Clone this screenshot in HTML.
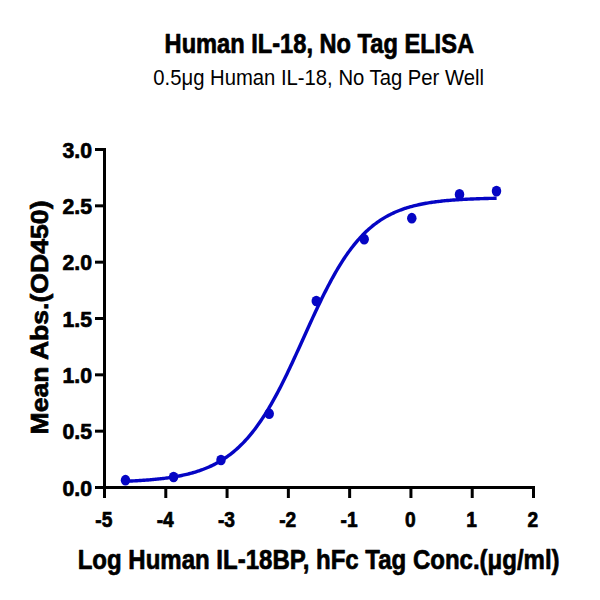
<!DOCTYPE html>
<html><head><meta charset="utf-8"><style>html,body{margin:0;padding:0;background:#fff;width:600px;height:600px;overflow:hidden}svg{display:block}</style></head>
<body><svg width="600" height="600" viewBox="0 0 600 600">
<rect width="600" height="600" fill="#fff"/>
<g stroke="#000" stroke-width="3" fill="none" stroke-linecap="butt">
<path d="M104.5,148 V489 M103,487.5 H535"/>
<path d="M95,487.50 H106"/>
<path d="M95,431.17 H106"/>
<path d="M95,374.83 H106"/>
<path d="M95,318.50 H106"/>
<path d="M95,262.17 H106"/>
<path d="M95,205.83 H106"/>
<path d="M95,149.50 H106"/>
<path d="M104.50,486 V498"/>
<path d="M165.79,486 V498"/>
<path d="M227.07,486 V498"/>
<path d="M288.36,486 V498"/>
<path d="M349.64,486 V498"/>
<path d="M410.93,486 V498"/>
<path d="M472.21,486 V498"/>
<path d="M533.50,486 V498"/>
</g>
<path d="M125.89,481.25 L127.13,481.20 L128.37,481.14 L129.61,481.09 L130.85,481.03 L132.09,480.97 L133.33,480.90 L134.57,480.84 L135.81,480.77 L137.05,480.70 L138.29,480.63 L139.53,480.55 L140.77,480.48 L142.01,480.40 L143.25,480.31 L144.49,480.23 L145.73,480.14 L146.97,480.04 L148.21,479.95 L149.45,479.85 L150.69,479.74 L151.93,479.63 L153.17,479.52 L154.41,479.41 L155.65,479.29 L156.89,479.16 L158.12,479.03 L159.36,478.90 L160.60,478.76 L161.84,478.62 L163.08,478.47 L164.32,478.32 L165.56,478.16 L166.80,477.99 L168.04,477.82 L169.28,477.64 L170.52,477.46 L171.76,477.27 L173.00,477.07 L174.24,476.86 L175.48,476.65 L176.72,476.43 L177.96,476.20 L179.20,475.97 L180.44,475.72 L181.68,475.47 L182.92,475.21 L184.16,474.94 L185.40,474.66 L186.64,474.36 L187.88,474.06 L189.12,473.75 L190.36,473.43 L191.60,473.09 L192.84,472.75 L194.08,472.39 L195.32,472.02 L196.56,471.63 L197.80,471.24 L199.04,470.82 L200.28,470.40 L201.52,469.96 L202.76,469.50 L204.00,469.03 L205.24,468.54 L206.48,468.04 L207.72,467.52 L208.96,466.98 L210.20,466.42 L211.44,465.85 L212.68,465.25 L213.92,464.64 L215.16,464.00 L216.40,463.35 L217.64,462.67 L218.88,461.97 L220.12,461.24 L221.36,460.50 L222.60,459.73 L223.84,458.93 L225.08,458.11 L226.32,457.27 L227.56,456.39 L228.80,455.49 L230.04,454.56 L231.28,453.61 L232.52,452.62 L233.76,451.60 L235.00,450.56 L236.24,449.48 L237.48,448.37 L238.72,447.23 L239.96,446.05 L241.20,444.84 L242.44,443.60 L243.68,442.32 L244.91,441.01 L246.15,439.66 L247.39,438.27 L248.63,436.85 L249.87,435.39 L251.11,433.89 L252.35,432.36 L253.59,430.78 L254.83,429.17 L256.07,427.51 L257.31,425.82 L258.55,424.08 L259.79,422.31 L261.03,420.50 L262.27,418.64 L263.51,416.75 L264.75,414.82 L265.99,412.84 L267.23,410.83 L268.47,408.78 L269.71,406.69 L270.95,404.55 L272.19,402.39 L273.43,400.18 L274.67,397.94 L275.91,395.66 L277.15,393.34 L278.39,390.99 L279.63,388.61 L280.87,386.19 L282.11,383.74 L283.35,381.26 L284.59,378.76 L285.83,376.22 L287.07,373.66 L288.31,371.07 L289.55,368.47 L290.79,365.83 L292.03,363.18 L293.27,360.51 L294.51,357.83 L295.75,355.13 L296.99,352.41 L298.23,349.69 L299.47,346.96 L300.71,344.22 L301.95,341.48 L303.19,338.73 L304.43,335.98 L305.67,333.24 L306.91,330.50 L308.15,327.76 L309.39,325.03 L310.63,322.31 L311.87,319.60 L313.11,316.91 L314.35,314.23 L315.59,311.57 L316.83,308.93 L318.07,306.31 L319.31,303.71 L320.55,301.14 L321.79,298.59 L323.03,296.07 L324.27,293.58 L325.51,291.12 L326.75,288.69 L327.99,286.29 L329.23,283.93 L330.47,281.60 L331.70,279.31 L332.94,277.06 L334.18,274.84 L335.42,272.66 L336.66,270.52 L337.90,268.42 L339.14,266.37 L340.38,264.35 L341.62,262.37 L342.86,260.43 L344.10,258.54 L345.34,256.68 L346.58,254.87 L347.82,253.10 L349.06,251.37 L350.30,249.68 L351.54,248.04 L352.78,246.43 L354.02,244.86 L355.26,243.34 L356.50,241.85 L357.74,240.41 L358.98,239.00 L360.22,237.63 L361.46,236.30 L362.70,235.00 L363.94,233.75 L365.18,232.52 L366.42,231.34 L367.66,230.19 L368.90,229.07 L370.14,227.99 L371.38,226.94 L372.62,225.92 L373.86,224.93 L375.10,223.98 L376.34,223.05 L377.58,222.16 L378.82,221.29 L380.06,220.45 L381.30,219.63 L382.54,218.85 L383.78,218.09 L385.02,217.35 L386.26,216.64 L387.50,215.96 L388.74,215.29 L389.98,214.65 L391.22,214.03 L392.46,213.43 L393.70,212.85 L394.94,212.30 L396.18,211.76 L397.42,211.24 L398.66,210.74 L399.90,210.25 L401.14,209.79 L402.38,209.34 L403.62,208.90 L404.86,208.48 L406.10,208.08 L407.34,207.69 L408.58,207.31 L409.82,206.95 L411.06,206.60 L412.30,206.27 L413.54,205.94 L414.78,205.63 L416.02,205.33 L417.26,205.04 L418.50,204.76 L419.73,204.49 L420.97,204.23 L422.21,203.99 L423.45,203.75 L424.69,203.51 L425.93,203.29 L427.17,203.08 L428.41,202.87 L429.65,202.67 L430.89,202.48 L432.13,202.30 L433.37,202.12 L434.61,201.95 L435.85,201.78 L437.09,201.63 L438.33,201.47 L439.57,201.33 L440.81,201.19 L442.05,201.05 L443.29,200.92 L444.53,200.80 L445.77,200.68 L447.01,200.56 L448.25,200.45 L449.49,200.34 L450.73,200.24 L451.97,200.14 L453.21,200.04 L454.45,199.95 L455.69,199.86 L456.93,199.78 L458.17,199.69 L459.41,199.62 L460.65,199.54 L461.89,199.47 L463.13,199.40 L464.37,199.33 L465.61,199.27 L466.85,199.20 L468.09,199.14 L469.33,199.09 L470.57,199.03 L471.81,198.98 L473.05,198.93 L474.29,198.88 L475.53,198.83 L476.77,198.78 L478.01,198.74 L479.25,198.70 L480.49,198.66 L481.73,198.62 L482.97,198.58 L484.21,198.54 L485.45,198.51 L486.69,198.48 L487.93,198.44 L489.17,198.41 L490.41,198.38 L491.65,198.36 L492.89,198.33 L494.13,198.30 L495.37,198.28 L496.61,198.25" stroke="#0505c4" stroke-width="3.4" fill="none"/>
<ellipse cx="125.5" cy="480.2" rx="4.75" ry="5.35" fill="#0505c4"/>
<ellipse cx="173.6" cy="477.0" rx="4.75" ry="5.35" fill="#0505c4"/>
<ellipse cx="221.0" cy="460.0" rx="4.75" ry="5.35" fill="#0505c4"/>
<ellipse cx="269.2" cy="413.7" rx="4.75" ry="5.35" fill="#0505c4"/>
<ellipse cx="316.3" cy="301.0" rx="4.75" ry="5.35" fill="#0505c4"/>
<ellipse cx="364.2" cy="239.2" rx="4.75" ry="5.35" fill="#0505c4"/>
<ellipse cx="411.8" cy="218.2" rx="4.75" ry="5.35" fill="#0505c4"/>
<ellipse cx="459.5" cy="194.4" rx="4.75" ry="5.35" fill="#0505c4"/>
<ellipse cx="496.5" cy="191.1" rx="4.75" ry="5.35" fill="#0505c4"/>
<text x="164.60" y="52.70" font-size="27.20" font-family="Liberation Sans, sans-serif" font-weight="bold" textLength="309.40" lengthAdjust="spacingAndGlyphs" stroke="#000" stroke-width="0.70" stroke-linejoin="round" >Human IL-18, No Tag ELISA</text>
<text x="153.30" y="85.20" font-size="21.80" font-family="Liberation Sans, sans-serif" font-weight="normal" textLength="330.70" lengthAdjust="spacingAndGlyphs" >0.5μg Human IL-18, No Tag Per Well</text>
<text x="62.50" y="495.70" font-size="21.80" font-family="Liberation Sans, sans-serif" font-weight="bold" textLength="29.50" lengthAdjust="spacingAndGlyphs" stroke="#000" stroke-width="0.70" stroke-linejoin="round" >0.0</text>
<text x="62.50" y="439.37" font-size="21.80" font-family="Liberation Sans, sans-serif" font-weight="bold" textLength="29.50" lengthAdjust="spacingAndGlyphs" stroke="#000" stroke-width="0.70" stroke-linejoin="round" >0.5</text>
<text x="62.50" y="383.03" font-size="21.80" font-family="Liberation Sans, sans-serif" font-weight="bold" textLength="29.50" lengthAdjust="spacingAndGlyphs" stroke="#000" stroke-width="0.70" stroke-linejoin="round" >1.0</text>
<text x="62.50" y="326.70" font-size="21.80" font-family="Liberation Sans, sans-serif" font-weight="bold" textLength="29.50" lengthAdjust="spacingAndGlyphs" stroke="#000" stroke-width="0.70" stroke-linejoin="round" >1.5</text>
<text x="62.50" y="270.37" font-size="21.80" font-family="Liberation Sans, sans-serif" font-weight="bold" textLength="29.50" lengthAdjust="spacingAndGlyphs" stroke="#000" stroke-width="0.70" stroke-linejoin="round" >2.0</text>
<text x="62.50" y="214.03" font-size="21.80" font-family="Liberation Sans, sans-serif" font-weight="bold" textLength="29.50" lengthAdjust="spacingAndGlyphs" stroke="#000" stroke-width="0.70" stroke-linejoin="round" >2.5</text>
<text x="62.50" y="157.70" font-size="21.80" font-family="Liberation Sans, sans-serif" font-weight="bold" textLength="29.50" lengthAdjust="spacingAndGlyphs" stroke="#000" stroke-width="0.70" stroke-linejoin="round" >3.0</text>
<text transform="translate(103.90,526.7) scale(0.88,1)" font-size="21.8" font-family="Liberation Sans, sans-serif" font-weight="bold" text-anchor="middle" stroke="#000" stroke-width="0.70" stroke-linejoin="round">-5</text>
<text transform="translate(165.19,526.7) scale(0.88,1)" font-size="21.8" font-family="Liberation Sans, sans-serif" font-weight="bold" text-anchor="middle" stroke="#000" stroke-width="0.70" stroke-linejoin="round">-4</text>
<text transform="translate(226.47,526.7) scale(0.88,1)" font-size="21.8" font-family="Liberation Sans, sans-serif" font-weight="bold" text-anchor="middle" stroke="#000" stroke-width="0.70" stroke-linejoin="round">-3</text>
<text transform="translate(287.76,526.7) scale(0.88,1)" font-size="21.8" font-family="Liberation Sans, sans-serif" font-weight="bold" text-anchor="middle" stroke="#000" stroke-width="0.70" stroke-linejoin="round">-2</text>
<text transform="translate(349.04,526.7) scale(0.88,1)" font-size="21.8" font-family="Liberation Sans, sans-serif" font-weight="bold" text-anchor="middle" stroke="#000" stroke-width="0.70" stroke-linejoin="round">-1</text>
<text transform="translate(410.33,526.7) scale(0.88,1)" font-size="21.8" font-family="Liberation Sans, sans-serif" font-weight="bold" text-anchor="middle" stroke="#000" stroke-width="0.70" stroke-linejoin="round">0</text>
<text transform="translate(471.61,526.7) scale(0.88,1)" font-size="21.8" font-family="Liberation Sans, sans-serif" font-weight="bold" text-anchor="middle" stroke="#000" stroke-width="0.70" stroke-linejoin="round">1</text>
<text transform="translate(532.90,526.7) scale(0.88,1)" font-size="21.8" font-family="Liberation Sans, sans-serif" font-weight="bold" text-anchor="middle" stroke="#000" stroke-width="0.70" stroke-linejoin="round">2</text>
<text x="77.70" y="568.70" font-size="28.00" font-family="Liberation Sans, sans-serif" font-weight="bold" textLength="481.90" lengthAdjust="spacingAndGlyphs" stroke="#000" stroke-width="0.70" stroke-linejoin="round" >Log Human IL-18BP, hFc Tag Conc.(μg/ml)</text>
<g transform="translate(48,434.5) rotate(-90)"><text x="0.00" y="0.00" font-size="24.70" font-family="Liberation Sans, sans-serif" font-weight="bold" textLength="234.00" lengthAdjust="spacingAndGlyphs" stroke="#000" stroke-width="0.70" stroke-linejoin="round" >Mean Abs.(OD450)</text></g>
</svg></body></html>
